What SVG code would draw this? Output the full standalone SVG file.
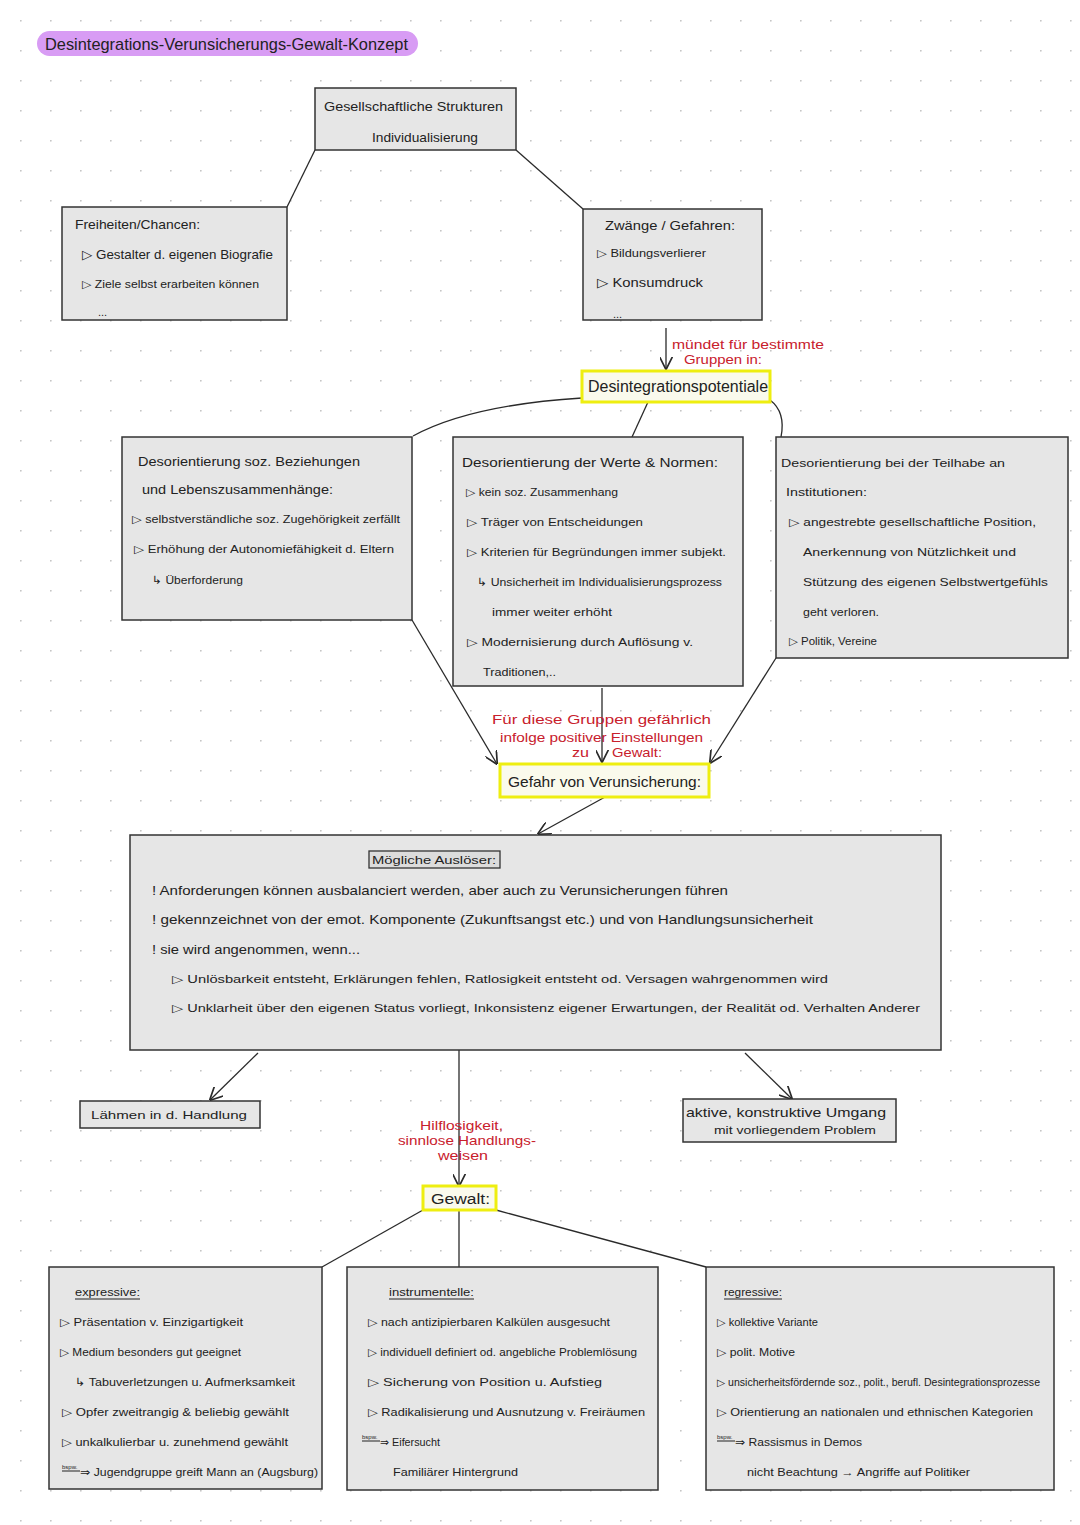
<svg xmlns="http://www.w3.org/2000/svg" width="1080" height="1525" viewBox="0 0 1080 1525">
<style>
text{font-family:"Liberation Sans","DejaVu Sans",sans-serif;fill:#222;}
.t{font-size:13px;}
.s{font-size:11px;}
.r{fill:#c8202c;font-size:13px;}
.box{fill:#e6e6e6;stroke:#333;stroke-width:1.5;}
.ybox{fill:#fafaec;stroke:#eeee10;stroke-width:3;}
.c{fill:none;stroke:#2a2a2a;stroke-width:1.3;}
.ul{stroke:#222;stroke-width:1;}
</style>
<defs>
<pattern id="dots" x="20" y="20" width="30" height="30" patternUnits="userSpaceOnUse">
<circle cx="0.8" cy="0.8" r="0.9" fill="#c4c4c4"/>
</pattern>
<marker id="ah" viewBox="0 0 10 10" refX="9.5" refY="5" markerWidth="13" markerHeight="13" markerUnits="userSpaceOnUse" orient="auto">
<path d="M0,0 L10,5 L0,10" fill="none" stroke="#2a2a2a" stroke-width="1.3"/>
</marker>
</defs>
<rect width="1080" height="1525" fill="#ffffff"/>
<rect width="1080" height="1525" fill="url(#dots)"/>

<g id="title">
<rect x="37" y="31" width="381" height="25" rx="12.5" fill="#d89cf4"/>
<text x="45" y="50" font-size="17" textLength="363" lengthAdjust="spacingAndGlyphs">Desintegrations-Verunsicherungs-Gewalt-Konzept</text>
</g>

<g id="connectors">
<line class="c" x1="315" y1="150" x2="287" y2="207"/>
<line class="c" x1="516" y1="150" x2="583" y2="209"/>
<line class="c" x1="666" y1="328" x2="666" y2="369" marker-end="url(#ah)"/>
<path class="c" d="M413,436 Q470,405 582,398"/>
<line class="c" x1="648" y1="402" x2="632" y2="437"/>
<path class="c" d="M770,400 Q786,412 781,437"/>
<line class="c" x1="412" y1="620" x2="497" y2="764" marker-end="url(#ah)"/>
<line class="c" x1="602" y1="688" x2="602" y2="762" marker-end="url(#ah)"/>
<line class="c" x1="776" y1="658" x2="710" y2="763" marker-end="url(#ah)"/>
<line class="c" x1="605" y1="797" x2="538" y2="834" marker-end="url(#ah)"/>
<line class="c" x1="258" y1="1053" x2="210" y2="1100" marker-end="url(#ah)"/>
<line class="c" x1="745" y1="1053" x2="792" y2="1099" marker-end="url(#ah)"/>
<line class="c" x1="459" y1="1050" x2="459" y2="1186" marker-end="url(#ah)"/>
<line class="c" x1="423" y1="1210" x2="322" y2="1267"/>
<line class="c" x1="459" y1="1210" x2="459" y2="1267"/>
<line class="c" x1="496" y1="1210" x2="706" y2="1267"/>
</g>

<g id="strukturen">
<rect class="box" x="315" y="88" width="201" height="62"/>
<text class="t" x="324" y="111" textLength="179" lengthAdjust="spacingAndGlyphs">Gesellschaftliche Strukturen</text>
<text class="t" x="372" y="142" textLength="106" lengthAdjust="spacingAndGlyphs">Individualisierung</text>
</g>

<g id="freiheiten">
<rect class="box" x="62" y="207" width="225" height="113"/>
<text class="t" x="75" y="229" textLength="125" lengthAdjust="spacingAndGlyphs">Freiheiten/Chancen:</text>
<text class="t" x="82" y="259" textLength="191" lengthAdjust="spacingAndGlyphs">▷ Gestalter d. eigenen Biografie</text>
<text class="s" x="82" y="288" textLength="177" lengthAdjust="spacingAndGlyphs">▷ Ziele selbst erarbeiten können</text>
<text class="s" x="98" y="316">...</text>
</g>

<g id="zwaenge">
<rect class="box" x="583" y="209" width="179" height="111"/>
<text class="t" x="605" y="230" textLength="130" lengthAdjust="spacingAndGlyphs">Zwänge / Gefahren:</text>
<text class="s" x="597" y="257" textLength="109" lengthAdjust="spacingAndGlyphs">▷ Bildungsverlierer</text>
<text class="t" x="597" y="287" textLength="106" lengthAdjust="spacingAndGlyphs">▷ Konsumdruck</text>
<text class="s" x="613" y="318">...</text>
</g>

<g id="label-muendet">
<text class="r" x="672" y="349" textLength="152" lengthAdjust="spacingAndGlyphs">mündet für bestimmte</text>
<text class="r" x="684" y="364" textLength="78" lengthAdjust="spacingAndGlyphs">Gruppen in:</text>
</g>

<g id="desintegrationspotentiale">
<rect class="ybox" x="582" y="371" width="188" height="31"/>
<text x="588" y="392" font-size="16" textLength="180" lengthAdjust="spacingAndGlyphs">Desintegrationspotentiale</text>
</g>

<g id="soz-beziehungen">
<rect class="box" x="122" y="437" width="290" height="183"/>
<text class="t" x="138" y="466" textLength="222" lengthAdjust="spacingAndGlyphs">Desorientierung soz. Beziehungen</text>
<text class="t" x="142" y="494" textLength="191" lengthAdjust="spacingAndGlyphs">und Lebenszusammenhänge:</text>
<text class="s" x="132" y="523" textLength="268" lengthAdjust="spacingAndGlyphs">▷ selbstverständliche soz. Zugehörigkeit zerfällt</text>
<text class="s" x="134" y="553" textLength="260" lengthAdjust="spacingAndGlyphs">▷ Erhöhung der Autonomiefähigkeit d. Eltern</text>
<text class="s" x="152" y="584" textLength="91" lengthAdjust="spacingAndGlyphs">↳ Überforderung</text>
</g>

<g id="werte-normen">
<rect class="box" x="453" y="437" width="290" height="249"/>
<text class="t" x="462" y="467" textLength="256" lengthAdjust="spacingAndGlyphs">Desorientierung der Werte &amp; Normen:</text>
<text class="s" x="466" y="496" textLength="152" lengthAdjust="spacingAndGlyphs">▷ kein soz. Zusammenhang</text>
<text class="s" x="467" y="526" textLength="176" lengthAdjust="spacingAndGlyphs">▷ Träger von Entscheidungen</text>
<text class="s" x="467" y="556" textLength="259" lengthAdjust="spacingAndGlyphs">▷ Kriterien für Begründungen immer subjekt.</text>
<text class="s" x="477" y="586" textLength="245" lengthAdjust="spacingAndGlyphs">↳ Unsicherheit im Individualisierungsprozess</text>
<text class="s" x="492" y="616" textLength="120" lengthAdjust="spacingAndGlyphs">immer weiter erhöht</text>
<text class="s" x="467" y="646" textLength="226" lengthAdjust="spacingAndGlyphs">▷ Modernisierung durch Auflösung v.</text>
<text class="s" x="483" y="676" textLength="73" lengthAdjust="spacingAndGlyphs">Traditionen,..</text>
</g>

<g id="teilhabe">
<rect class="box" x="776" y="437" width="292" height="221"/>
<text class="s" x="781" y="467" textLength="224" lengthAdjust="spacingAndGlyphs">Desorientierung bei der Teilhabe an</text>
<text class="s" x="786" y="496" textLength="81" lengthAdjust="spacingAndGlyphs">Institutionen:</text>
<text class="s" x="789" y="526" textLength="247" lengthAdjust="spacingAndGlyphs">▷ angestrebte gesellschaftliche Position,</text>
<text class="s" x="803" y="556" textLength="213" lengthAdjust="spacingAndGlyphs">Anerkennung von Nützlichkeit und</text>
<text class="s" x="803" y="586" textLength="245" lengthAdjust="spacingAndGlyphs">Stützung des eigenen Selbstwertgefühls</text>
<text class="s" x="803" y="616" textLength="76" lengthAdjust="spacingAndGlyphs">geht verloren.</text>
<text class="s" x="789" y="645" textLength="88" lengthAdjust="spacingAndGlyphs">▷ Politik, Vereine</text>
</g>

<g id="label-gefaehrlich">
<text class="r" x="492" y="724" textLength="219" lengthAdjust="spacingAndGlyphs">Für diese Gruppen gefährlich</text>
<text class="r" x="500" y="742" textLength="203" lengthAdjust="spacingAndGlyphs">infolge positiver Einstellungen</text>
<text class="r" x="572" y="757" font-size="11" textLength="17" lengthAdjust="spacingAndGlyphs">zu</text>
<text class="r" x="612" y="757" font-size="12" textLength="50" lengthAdjust="spacingAndGlyphs">Gewalt:</text>
</g>

<g id="gefahr">
<rect class="ybox" x="500" y="764" width="209" height="33"/>
<text x="508" y="787" font-size="15" textLength="193" lengthAdjust="spacingAndGlyphs">Gefahr von Verunsicherung:</text>
</g>

<g id="ausloeser">
<rect class="box" x="130" y="835" width="811" height="215"/>
<rect x="369" y="851" width="131" height="17" fill="#dcdcdc" stroke="#333" stroke-width="1.3"/>
<text class="s" x="372" y="864" textLength="124" lengthAdjust="spacingAndGlyphs">Mögliche Auslöser:</text>
<text class="t" x="152" y="895" textLength="576" lengthAdjust="spacingAndGlyphs">! Anforderungen können ausbalanciert werden, aber auch zu Verunsicherungen führen</text>
<text class="t" x="152" y="924" textLength="661" lengthAdjust="spacingAndGlyphs">! gekennzeichnet von der emot. Komponente (Zukunftsangst etc.) und von Handlungsunsicherheit</text>
<text class="t" x="152" y="954" textLength="208" lengthAdjust="spacingAndGlyphs">! sie wird angenommen, wenn...</text>
<text class="s" x="172" y="983" textLength="656" lengthAdjust="spacingAndGlyphs">▷ Unlösbarkeit entsteht, Erklärungen fehlen, Ratlosigkeit entsteht od. Versagen wahrgenommen wird</text>
<text class="s" x="172" y="1012" textLength="748" lengthAdjust="spacingAndGlyphs">▷ Unklarheit über den eigenen Status vorliegt, Inkonsistenz eigener Erwartungen, der Realität od. Verhalten Anderer</text>
</g>

<g id="laehmen">
<rect class="box" x="80" y="1101" width="180" height="27"/>
<text class="s" x="91" y="1119" textLength="156" lengthAdjust="spacingAndGlyphs">Lähmen in d. Handlung</text>
</g>

<g id="aktiv">
<rect class="box" x="683" y="1099" width="213" height="43"/>
<text class="t" x="686" y="1117" textLength="200" lengthAdjust="spacingAndGlyphs">aktive, konstruktive Umgang</text>
<text class="s" x="714" y="1134" textLength="162" lengthAdjust="spacingAndGlyphs">mit vorliegendem Problem</text>
</g>

<g id="label-hilflos">
<text class="r" x="420" y="1130" textLength="83" lengthAdjust="spacingAndGlyphs">Hilflosigkeit,</text>
<text class="r" x="398" y="1145" textLength="138" lengthAdjust="spacingAndGlyphs">sinnlose Handlungs-</text>
<text class="r" x="438" y="1160" textLength="50" lengthAdjust="spacingAndGlyphs">weisen</text>
</g>

<g id="gewalt">
<rect class="ybox" x="423" y="1186" width="73" height="24"/>
<text x="431" y="1204" font-size="14" textLength="59" lengthAdjust="spacingAndGlyphs">Gewalt:</text>
</g>

<g id="expressive">
<rect class="box" x="49" y="1267" width="273" height="222"/>
<text class="s" x="75" y="1296" textLength="65" lengthAdjust="spacingAndGlyphs">expressive:</text>
<line class="ul" x1="75" y1="1299" x2="140" y2="1299"/>
<text class="s" x="60" y="1326" textLength="183" lengthAdjust="spacingAndGlyphs">▷ Präsentation v. Einzigartigkeit</text>
<text class="s" x="60" y="1356" textLength="181" lengthAdjust="spacingAndGlyphs">▷ Medium besonders gut geeignet</text>
<text class="s" x="75" y="1386" textLength="220" lengthAdjust="spacingAndGlyphs">↳ Tabuverletzungen u. Aufmerksamkeit</text>
<text class="s" x="62" y="1416" textLength="227" lengthAdjust="spacingAndGlyphs">▷ Opfer zweitrangig &amp; beliebig gewählt</text>
<text class="s" x="62" y="1446" textLength="226" lengthAdjust="spacingAndGlyphs">▷ unkalkulierbar u. zunehmend gewählt</text>
<text x="62" y="1469" font-size="6">bspw.</text>
<line class="ul" x1="62" y1="1471" x2="80" y2="1471"/>
<text class="s" x="80" y="1476" textLength="238" lengthAdjust="spacingAndGlyphs">⇒ Jugendgruppe greift Mann an (Augsburg)</text>
</g>

<g id="instrumentelle">
<rect class="box" x="347" y="1267" width="311" height="223"/>
<text class="s" x="389" y="1296" textLength="85" lengthAdjust="spacingAndGlyphs">instrumentelle:</text>
<line class="ul" x1="389" y1="1299" x2="474" y2="1299"/>
<text class="s" x="368" y="1326" textLength="242" lengthAdjust="spacingAndGlyphs">▷ nach antizipierbaren Kalkülen ausgesucht</text>
<text class="s" x="368" y="1356" textLength="269" lengthAdjust="spacingAndGlyphs">▷ individuell definiert od. angebliche Problemlösung</text>
<text class="s" x="368" y="1386" textLength="234" lengthAdjust="spacingAndGlyphs">▷ Sicherung von Position u. Aufstieg</text>
<text class="s" x="368" y="1416" textLength="277" lengthAdjust="spacingAndGlyphs">▷ Radikalisierung und Ausnutzung v. Freiräumen</text>
<text x="362" y="1439" font-size="6">bspw.</text>
<line class="ul" x1="362" y1="1441" x2="380" y2="1441"/>
<text class="s" x="380" y="1446" textLength="60" lengthAdjust="spacingAndGlyphs">⇒ Eifersucht</text>
<text class="s" x="393" y="1476" textLength="125" lengthAdjust="spacingAndGlyphs">Familiärer Hintergrund</text>
</g>

<g id="regressive">
<rect class="box" x="706" y="1267" width="348" height="223"/>
<text class="s" x="724" y="1296" textLength="58" lengthAdjust="spacingAndGlyphs">regressive:</text>
<line class="ul" x1="724" y1="1299" x2="782" y2="1299"/>
<text class="s" x="717" y="1326" textLength="101" lengthAdjust="spacingAndGlyphs">▷ kollektive Variante</text>
<text class="s" x="717" y="1356" textLength="78" lengthAdjust="spacingAndGlyphs">▷ polit. Motive</text>
<text x="717" y="1386" font-size="10" textLength="323" lengthAdjust="spacingAndGlyphs">▷ unsicherheitsfördernde soz., polit., berufl. Desintegrationsprozesse</text>
<text class="s" x="717" y="1416" textLength="316" lengthAdjust="spacingAndGlyphs">▷ Orientierung an nationalen und ethnischen Kategorien</text>
<text x="717" y="1439" font-size="6">bspw.</text>
<line class="ul" x1="717" y1="1441" x2="735" y2="1441"/>
<text class="s" x="735" y="1446" textLength="127" lengthAdjust="spacingAndGlyphs">⇒ Rassismus in Demos</text>
<text class="s" x="747" y="1476" textLength="223" lengthAdjust="spacingAndGlyphs">nicht Beachtung → Angriffe auf Politiker</text>
</g>
</svg>
